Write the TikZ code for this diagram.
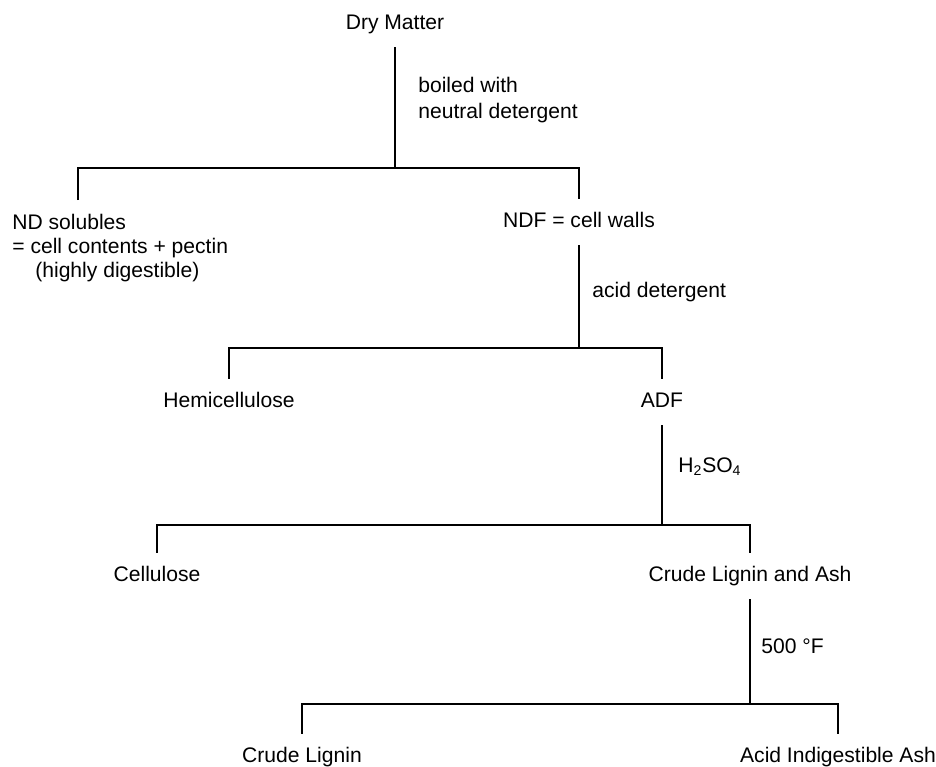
\documentclass[tikz,border=0pt]{standalone}
\usepackage{fontspec}
\setmainfont{Liberation Sans}
\usetikzlibrary{positioning}

\begin{document}
\begin{tikzpicture}[x=0.02cm, y=-0.02cm,
    fraction/.style={inner sep=0pt, minimum height=0.92cm, text height=8.5pt, text depth=2.5pt, font=\fontsize{12}{14.5}\selectfont},
    reagent/.style={anchor=west, align=left, inner sep=0pt, font=\fontsize{12}{14.5}\selectfont},
    split/.style={line width=1.1pt}]
    \useasboundingbox (0,0) rectangle (936,767);

    % Dry matter, neutral detergent
    \node[fraction] (dm) at (395,24) {Dry Matter};
    \node[reagent] (nd) at (418,100) {boiled with\\neutral detergent};
    \coordinate (fork1) at (395,168);
    \node[reagent, font=\fontsize{12}{13.9}\selectfont] (nds) at (12,248) {ND solubles\\= cell contents + pectin\\\hspace*{0.46cm}(highly digestible)};
    \coordinate (nds-top) at (78,200);
    \node[fraction] (ndf) at (579,222) {NDF = cell walls};
    \draw[split] (dm) -- (fork1);
    \draw[split] (nds-top) |- (fork1) -| (ndf);

    % Acid detergent
    \node[reagent] (ad) at (592,292) {acid detergent};
    \coordinate (fork2) at (579,348);
    \node[fraction] (hemi) at (229,402) {Hemicellulose};
    \node[fraction] (adf) at (662,402) {ADF};
    \draw[split] (ndf) -- (fork2);
    \draw[split] (hemi) |- (fork2) -| (adf);

    % Sulfuric acid
    \node[reagent] (acid) at (678,467) {H\textsubscript{2}SO\textsubscript{4}};
    \coordinate (fork3) at (662,525);
    \node[fraction] (cell) at (157,576) {Cellulose};
    \node[fraction] (cla) at (750,576) {Crude Lignin and Ash};
    \draw[split] (adf) -- (fork3);
    \draw[split] (cell) |- (fork3) -| (cla);

    % Ashing
    \node[reagent] (ash) at (761,646) {500 °F};
    \coordinate (fork4) at (750,704);
    \node[fraction] (cl) at (302,757) {Crude Lignin};
    \node[fraction] (aia) at (838,757) {Acid Indigestible Ash};
    \draw[split] (cla) -- (fork4);
    \draw[split] (cl) |- (fork4) -| (aia);
\end{tikzpicture}
\end{document}
